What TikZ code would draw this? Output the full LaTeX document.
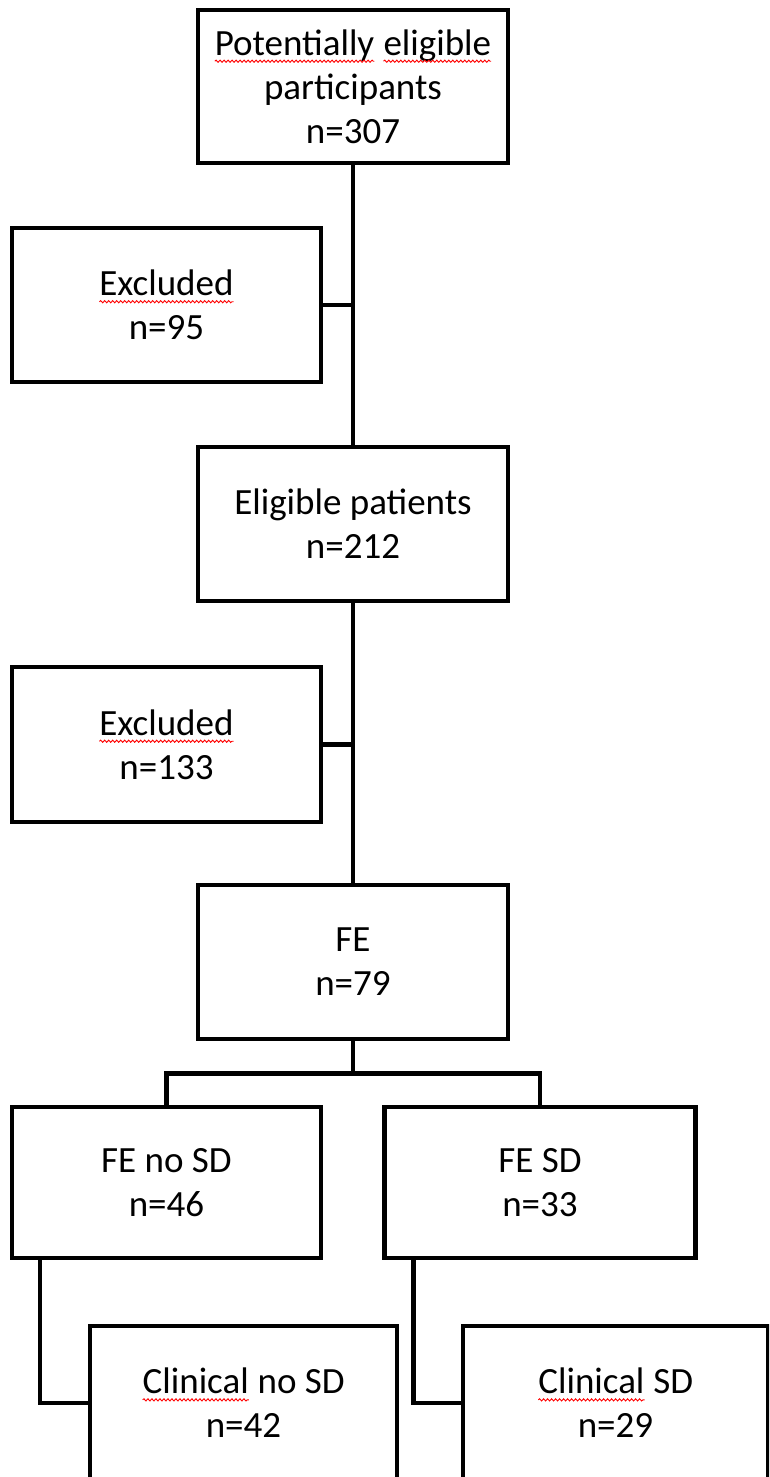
\documentclass[tikz,border=0pt]{standalone}
\usepackage{fontspec}
\setmainfont{Carlito}
\usetikzlibrary{decorations.pathmorphing}
\newcommand\redwave[1]{\tikz[baseline=(w.base), x=1cm, y=1cm]{%
  \node[draw=none, fill=none, inner sep=0pt, outer sep=0pt, minimum width=0pt, minimum height=0pt] (w) {#1};%
  \draw[red, line width=0.9pt, decorate, decoration={snake, amplitude=1.1pt, segment length=4pt}]
    ([yshift=-6pt]w.base west) -- ([yshift=-6pt]w.base east);}}
\tikzset{
  box/.style={draw=black, line width=4.5pt, fill=white, align=center,
    font=\fontsize{37}{44}\selectfont, inner sep=0pt},
  conn/.style={draw=black, line width=4.5pt}
}
\begin{document}
\begin{tikzpicture}[x=1pt, y=-1pt]
\useasboundingbox (0,0) rectangle (769,1477);
\clip (0,0) rectangle (769,1477);
\fill[white] (0,0) rectangle (769,1477);

\node[box, minimum width=310pt, minimum height=153pt] (top) at (353,86.5)
  {\redwave{Potentially} \redwave{eligible}\\participants\\n=307};
\node[box, minimum width=309pt, minimum height=154pt] (ex1) at (166.5,305)
  {\redwave{Excluded}\\n=95};
\node[box, minimum width=310pt, minimum height=154pt] (elig) at (353,524)
  {Eligible patients\\n=212};
\node[box, minimum width=309pt, minimum height=155pt] (ex2) at (166.5,744.5)
  {\redwave{Excluded}\\n=133};
\node[box, minimum width=310pt, minimum height=154pt] (fe) at (353,962)
  {FE\\n=79};
\node[box, minimum width=309pt, minimum height=151pt] (fenosd) at (166.5,1182.5)
  {FE no SD\\n=46};
\node[box, minimum width=311pt, minimum height=151pt] (fesd) at (540,1182.5)
  {FE SD\\n=33};
\node[box, minimum width=307pt, minimum height=154pt] (clinno) at (243.5,1403)
  {\redwave{Clinical} no SD\\n=42};
\node[box, minimum width=305pt, minimum height=154pt] (clinsd) at (615.5,1403)
  {\redwave{Clinical} SD\\n=29};

\coordinate (br) at ([yshift=-32pt]fe.south);

\draw[conn] (top.south) -- (elig.north);
\draw[conn] (ex1.east) -- (ex1.east -| top.south);
\draw[conn] (elig.south) -- (fe.north);
\draw[conn] (ex2.east) -- (ex2.east -| elig.south);
\draw[conn] (fe.south) -- (br);
\draw[conn] (fenosd.north) |- (br) -| (fesd.north);
\draw[conn] ([xshift=30pt]fenosd.south west) |- (clinno.west);
\draw[conn] ([xshift=31pt]fesd.south west) |- (clinsd.west);
\end{tikzpicture}
\end{document}
